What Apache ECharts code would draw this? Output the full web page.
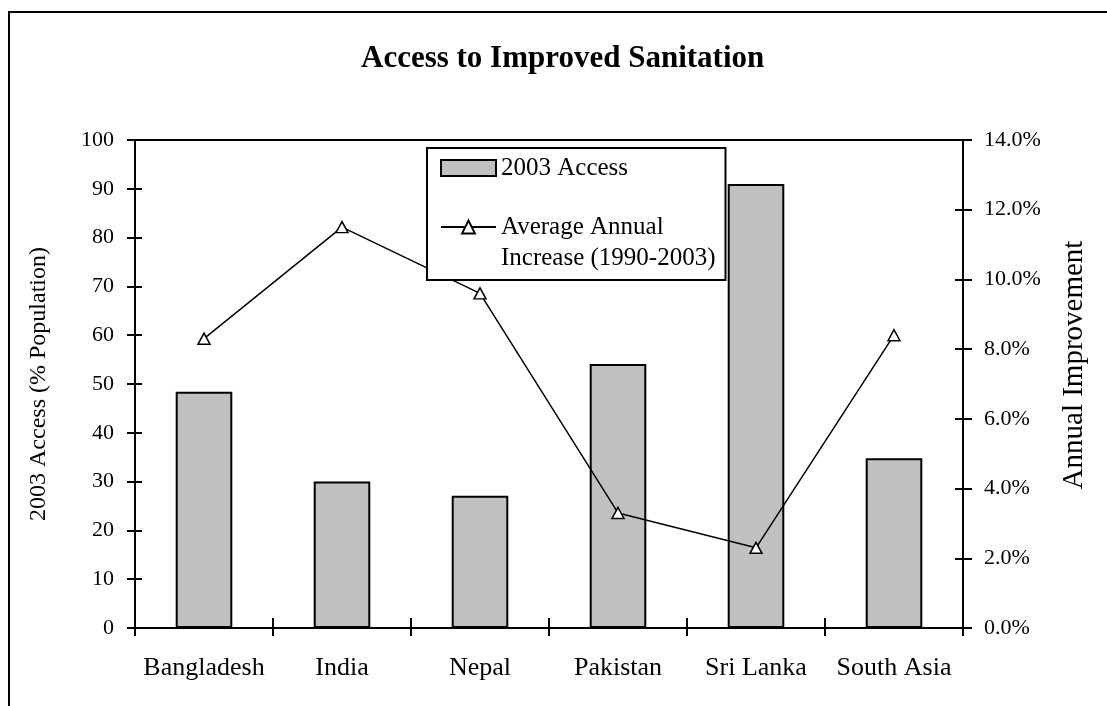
<!DOCTYPE html>
<html>
<head>
<meta charset="utf-8">
<script src="https://cdn.jsdelivr.net/npm/echarts@6/dist/echarts.min.js"></script>
<style>
  html, body { margin: 0; padding: 0; background: #fff; }
  #chart { width: 1107px; height: 706px; }
</style>
</head>
<body>
<div id="chart"></div>
<script>
// data
var categories = ['Bangladesh', 'India', 'Nepal', 'Pakistan', 'Sri Lanka', 'South Asia'];
var access2003 = [48.4, 30.0, 27.1, 54.1, 91.0, 34.8];
var annualIncrease = [8.3, 11.5, 9.6, 3.3, 2.3, 8.4];   // percent

var barName = '2003 Access';
var lineName = 'Average Annual\nIncrease (1990-2003)';

var serif = 'Liberation Serif';
var black = '#000';

var chart = echarts.init(document.getElementById('chart'));

// hidden twin axis, only to draw the inner half of the crossing ticks
function twinY(pos, min, max, interval, len) {
  return {
    type: 'value', position: pos, min: min, max: max, interval: interval,
    axisLine: { show: false },
    axisTick: { show: true, inside: true, length: len, lineStyle: { color: black, width: 2 } },
    axisLabel: { show: false },
    splitLine: { show: false }
  };
}

chart.setOption({
  animation: false,
  backgroundColor: '#fff',
  title: {
    text: 'Access to Improved Sanitation',
    left: 361, top: 43, padding: 0,
    textStyle: { fontFamily: serif, fontSize: 31, fontWeight: 'bold', color: black }
  },
  graphic: [{
    type: 'rect', z: -10,
    shape: { x: 9, y: 12, width: 1300, height: 900 },
    style: { fill: 'none', stroke: black, lineWidth: 2 }
  }],
  legend: {
    orient: 'vertical',
    left: 427, top: 148,
    padding: [7.5, 10, 6.5, 13],
    itemGap: 0,
    itemWidth: 55, itemHeight: 16,
    backgroundColor: '#fff',
    borderColor: black, borderWidth: 2,
    textStyle: { fontFamily: serif, fontSize: 25, color: black },
    // empty first line keeps "Average Annual" level with its icon
    formatter: function (name) { return name === lineName ? '\n' + name : name; },
    data: [
      { name: barName, icon: 'rect' },
      { name: lineName, textStyle: { lineHeight: 31 } }
    ]
  },
  grid: {
    left: 135, right: 144, top: 140, bottom: 78,
    show: true, borderColor: black, borderWidth: 2, backgroundColor: 'transparent'
  },
  xAxis: [{
    type: 'category', data: categories, position: 'bottom',
    axisLine: { lineStyle: { color: black, width: 2 } },
    axisTick: { show: true, length: 8, lineStyle: { color: black, width: 2 } },
    axisLabel: { fontFamily: serif, fontSize: 26, color: black, margin: 27, interval: 0 }
  }, {
    type: 'category', data: categories, position: 'bottom',
    axisLine: { show: false },
    axisTick: { show: true, inside: true, length: 10, lineStyle: { color: black, width: 2 } },
    axisLabel: { show: false }
  }],
  yAxis: [{
    type: 'value', position: 'left', min: 0, max: 100, interval: 10,
    name: '2003 Access (% Population)',
    nameLocation: 'middle', nameRotate: 90, nameGap: 84,
    nameTextStyle: { fontFamily: serif, fontSize: 24, color: black },
    axisLine: { show: true, lineStyle: { color: black, width: 2 } },
    axisTick: { show: true, length: 8, lineStyle: { color: black, width: 2 } },
    axisLabel: { fontFamily: serif, fontSize: 22, color: black, margin: 21 },
    splitLine: { show: false }
  }, {
    type: 'value', position: 'right', min: 0, max: 14, interval: 2,
    name: 'Annual Improvement',
    nameLocation: 'middle', nameRotate: 90, nameGap: 97,
    // left padding lifts the rotated name a little above the axis middle
    nameTextStyle: { fontFamily: serif, fontSize: 29, color: black, padding: [0, 0, 0, 38] },
    axisLine: { show: true, lineStyle: { color: black, width: 2 } },
    axisTick: { show: true, length: 9, lineStyle: { color: black, width: 2 } },
    axisLabel: {
      fontFamily: serif, fontSize: 22, color: black, margin: 21,
      formatter: function (v) { return v.toFixed(1) + '%'; }
    },
    splitLine: { show: false }
  },
  twinY('left', 0, 100, 10, 7),
  twinY('right', 0, 14, 2, 8)],
  series: [{
    name: barName,
    type: 'bar',
    xAxisIndex: 0, yAxisIndex: 0,
    data: access2003,
    barWidth: '41%',
    itemStyle: { color: '#c0c0c0', borderColor: black, borderWidth: 2 }
  }, {
    name: lineName,
    type: 'line',
    xAxisIndex: 0, yAxisIndex: 1,
    data: annualIncrease,
    symbol: 'triangle', symbolSize: [12, 11],
    lineStyle: { color: black, width: 1.5 },
    itemStyle: { color: '#fff', borderColor: black, borderWidth: 1.5 },
    z: 3
  }]
});
</script>
</body>
</html>
